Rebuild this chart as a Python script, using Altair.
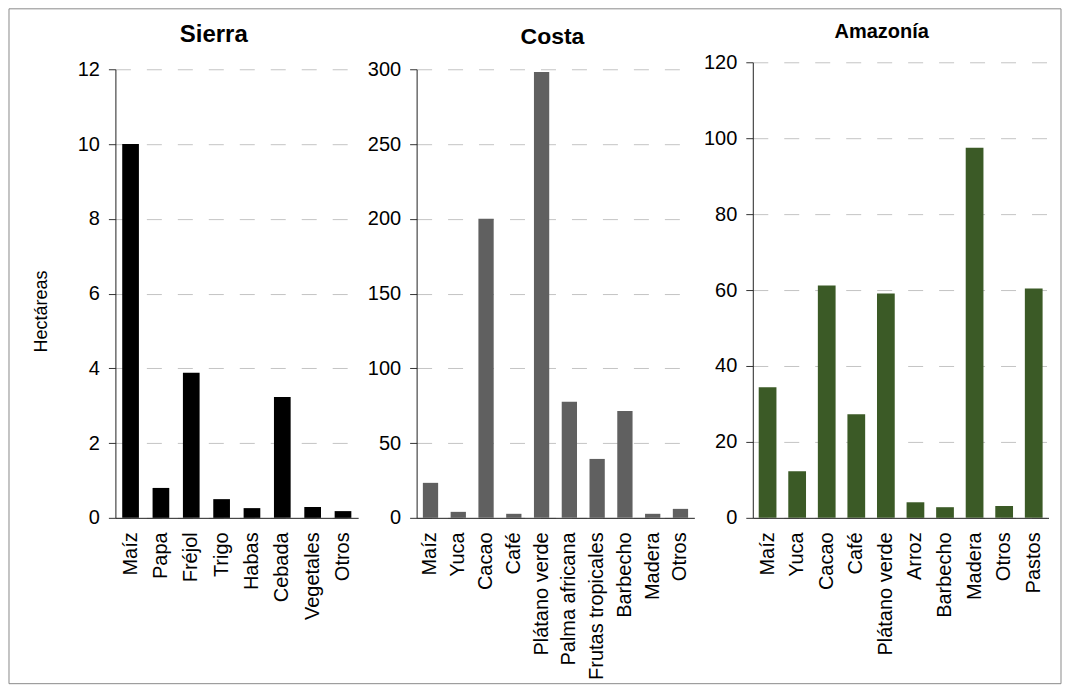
import altair as alt
import pandas as pd

sierra_cats = ["Maíz", "Papa", "Fréjol", "Trigo", "Habas", "Cebada", "Vegetales", "Otros"]
sierra_vals = [10.0, 0.80, 3.88, 0.50, 0.26, 3.23, 0.29, 0.18]

costa_cats = ["Maíz", "Yuca", "Cacao", "Café", "Plátano verde", "Palma africana",
              "Frutas tropicales", "Barbecho", "Madera", "Otros"]
costa_vals = [23.4, 4.0, 200.0, 2.7, 298.2, 77.6, 39.4, 71.5, 2.7, 6.0]

amazonia_cats = ["Maíz", "Yuca", "Cacao", "Café", "Plátano verde", "Arroz",
                 "Barbecho", "Madera", "Otros", "Pastos"]
amazonia_vals = [34.4, 12.3, 61.2, 27.3, 59.1, 4.1, 2.8, 97.5, 3.1, 60.4]

FONT = "Liberation Sans"
H = 456


def bars(cats, vals, color, ymax, ystep, top, ytitle=None, pin=0.45):
    df = pd.DataFrame({"cat": cats, "val": vals})
    yaxis_kwargs = dict(
        values=list(range(0, ymax + 1, ystep)),
        grid=True, gridDash=[15, 16], gridColor="#c4c4c4", gridWidth=1,
        tickSize=7, tickColor="#333333", domainColor="#222222",
        labelFontSize=20, labelPadding=9, labelColor="#000000",
        title=ytitle if ytitle else None,
    )
    if ytitle:
        yaxis_kwargs.update(titleFontSize=18, titleFontWeight="normal", titleColor="#000000",
                            titlePadding=27, titleY=249, titleAlign="center")
    return alt.Chart(df).mark_bar(color=color).encode(
        x=alt.X("cat:N", sort=cats, title=None,
                scale=alt.Scale(paddingInner=pin, paddingOuter=pin / 2),
                axis=alt.Axis(labelAngle=-90, ticks=False, labelFontSize=20, labelPadding=14,
                              labelColor="#000000", domainColor="#222222", grid=False)),
        y=alt.Y("val:Q", scale=alt.Scale(domain=[0, ymax], nice=False, range=[H, top]),
                axis=alt.Axis(**yaxis_kwargs)),
    )


def ttl(text, size, off, dx):
    return alt.Title(text, fontSize=size, fontWeight="bold", offset=off, dx=dx,
                     color="#000000", font=FONT)


sierra = bars(sierra_cats, sierra_vals, "#000000", 12, 2, 7, ytitle="Hectáreas").properties(
    width=243, height=H, title=ttl("Sierra", 24, 12.5, -23))
costa = bars(costa_cats, costa_vals, "#606060", 300, 50, 7).properties(
    width=278, height=H, title=ttl("Costa", 23, 10.5, -3))
amazonia = bars(amazonia_cats, amazonia_vals, "#3b5a26", 120, 20, 0, pin=0.4).properties(
    width=296, height=H, title=ttl("Amazonía", 20, 10, -19))

# outer frame drawn around the whole figure (decoration only), in an empty leading cell
frame = alt.Chart(pd.DataFrame({"f": [0]})).mark_rect(
    fillOpacity=0, stroke="#8a8a8a", strokeWidth=1
).encode(
    x=alt.value(0), x2=alt.value(1053), y=alt.value(-53.5), y2=alt.value(622)
).properties(width=47.5, height=H)

chart = alt.hconcat(
    frame, sierra, costa, amazonia,
    spacing=58.5,
    bounds="flush",
).properties(
    padding={"left": 0, "top": 0, "right": 0, "bottom": 0},
).configure(
    font=FONT,
).configure_view(
    stroke=None,
)

chart.save("out.html", embed_options={"renderer": "svg", "actions": False})
